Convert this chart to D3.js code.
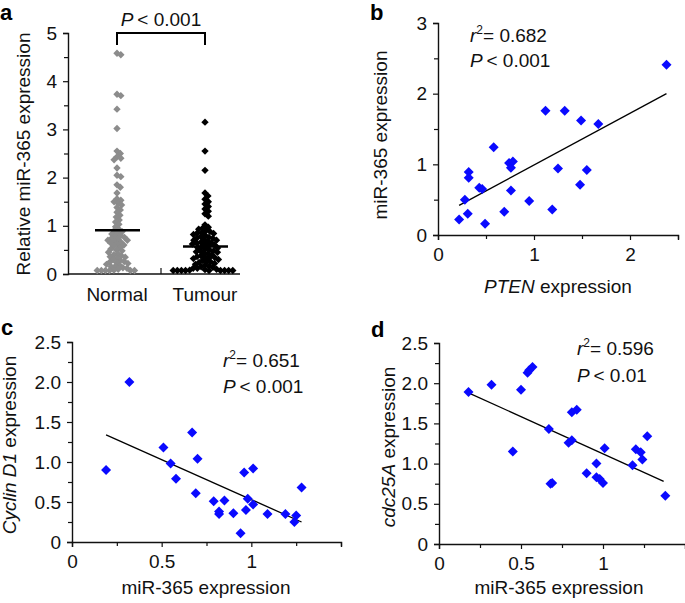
<!DOCTYPE html>
<html><head><meta charset="utf-8">
<script src="https://cdn.jsdelivr.net/npm/d3@7"></script>
<style>
body{margin:0;background:#fff;}
svg{display:block;font-family:"Liberation Sans",Arial,sans-serif;}
</style></head><body>
<svg id="c" width="685" height="603"></svg>
<script>
// ---------- DATA ----------
const groupNames = ["Normal", "Tumour"];
const normalValues = [4.58,4.55,3.73,3.70,3.42,3.02,2.55,2.50,2.43,2.40,2.37,2.20,2.05,2.02,1.85,1.80,1.68,1.56,1.53,1.50,1.47,1.43,1.38,1.33,1.28,1.22,1.18,1.12,1.08,1.03,0.98,
  0.93,0.90,0.88,0.85,0.83,0.80,0.78,0.76,0.74,0.72,0.70,0.70,0.68,0.66,0.64,0.62,0.60,0.58,0.55,0.52,0.50,0.48,0.45,0.42,0.40,0.38,0.36,0.35,0.33,0.30,0.28,0.26,0.25,0.24,0.22,0.20,0.18,0.16,0.15,0.13,0.12,0.10,0.08,0.07,0.06,0.05,0.04,0.03,0.02];
const tumourValues = [3.15,2.55,2.15,1.68,1.62,1.55,1.50,1.45,1.40,1.35,1.30,1.25,1.20,1.02,0.97,0.95,0.93,0.90,0.88,0.86,0.84,0.82,0.80,0.78,0.76,0.74,0.72,0.70,0.68,0.66,0.64,0.62,0.60,0.58,0.56,0.54,0.52,0.50,0.48,0.46,0.44,0.42,0.40,0.38,0.36,0.34,0.32,0.30,0.28,0.26,0.24,0.22,0.20,0.18,0.16,0.14,0.12,0.10,0.09,0.08,0.07,0.06,0.05,0.04,0.03,0.02,0.01,
  0.85,0.75,0.65,0.55,0.45,0.35,0.25,0.15,0.05,0.02,0.62,0.48,0.33,0.12,0.70];
const groupMeans = [0.91, 0.57];
const pValueA = "0.001";

const ptenB = [0.22,0.28,0.31,0.32,0.32,0.43,0.46,0.49,0.58,0.69,0.74,0.76,0.76,0.78,0.95,1.12,1.19,1.25,1.32,1.48,1.49,1.55,1.67,2.38];
const mirB  = [0.22,0.50,0.30,0.89,0.81,0.67,0.65,0.16,1.24,0.33,1.02,0.95,0.63,1.04,0.48,1.76,0.36,0.94,1.76,0.71,1.62,0.92,1.57,2.41];
const fitBx = [0.22, 2.38], fitBy = [0.42, 2.00];

const mirC    = [0.19,0.32,0.51,0.55,0.58,0.67,0.69,0.70,0.79,0.82,0.82,0.85,0.90,0.94,0.96,0.97,0.98,1.01,1.01,1.09,1.19,1.25,1.24,1.28];
const cyclinC = [0.90,2.00,1.18,0.98,0.79,1.37,0.61,1.04,0.51,0.38,0.35,0.52,0.36,0.11,0.87,0.40,0.54,0.92,0.47,0.35,0.35,0.33,0.25,0.68];
const fitCx = [0.19, 1.28], fitCy = [1.34, 0.25];

const mirD    = [0.18,0.32,0.45,0.50,0.54,0.55,0.57,0.67,0.68,0.69,0.79,0.81,0.81,0.84,0.90,0.96,0.96,0.98,1.00,1.01,1.18,1.20,1.23,1.24,1.27,1.38];
const cdcD    = [1.89,1.98,1.15,1.92,2.13,2.16,2.20,1.43,0.75,0.76,1.26,1.64,1.29,1.67,0.88,1.00,0.83,0.81,0.76,1.19,0.98,1.18,1.14,1.05,1.34,0.60];
const fitDx = [0.18, 1.37], fitDy = [1.88, 0.78];

const statsB = ["0.682", "0.001"], statsC = ["0.651", "0.001"], statsD = ["0.596", "0.01"];

// ---------- HELPERS ----------
const svg = d3.select("#c");
const FS = 19;
const blue = "#0a0aff";
function diamond(h){ return `M0,${-h}L${h},0L0,${h}L${-h},0Z`; }

function axisX(g, scale, y, major, minor, fmt){
  const a = g.append("g").attr("transform",`translate(0,${y})`)
    .call(d3.axisBottom(scale).tickValues(major).tickFormat(fmt).tickSizeOuter(0).tickSize(5).tickPadding(8));
  g.append("g").attr("transform",`translate(0,${y})`)
    .call(d3.axisBottom(scale).tickValues(minor).tickFormat("").tickSizeOuter(0).tickSize(4))
    .call(s=>s.select(".domain").remove())
    .selectAll("line").attr("stroke","#111").attr("stroke-width",1.2);
  styleAxis(a);
}
function axisY(g, scale, x, major, minor, fmt){
  const a = g.append("g").attr("transform",`translate(${x},0)`)
    .call(d3.axisLeft(scale).tickValues(major).tickFormat(fmt).tickSizeOuter(0).tickSize(5).tickPadding(6));
  g.append("g").attr("transform",`translate(${x},0)`)
    .call(d3.axisLeft(scale).tickValues(minor).tickFormat("").tickSizeOuter(0).tickSize(4))
    .call(s=>s.select(".domain").remove())
    .selectAll("line").attr("stroke","#111").attr("stroke-width",1.2);
  styleAxis(a);
}
function styleAxis(a){
  a.selectAll("text").attr("font-size",FS).attr("fill","#111").attr("font-family","Liberation Sans, Arial, sans-serif");
  a.selectAll("line").attr("stroke","#111").attr("stroke-width",1.2);
  a.select(".domain").attr("stroke","#111").attr("stroke-width",1.4);
}
function panelLetter(t,x,y){
  svg.append("text").attr("x",x).attr("y",y).attr("font-size",22).attr("font-weight","bold").attr("fill","#000").text(t);
}
function yTitle(parts,cx,cy){
  const t = svg.append("text").attr("transform",`translate(${cx},${cy}) rotate(-90)`)
    .attr("text-anchor","middle").attr("dy","0.35em").attr("font-size",FS).attr("fill","#111");
  parts.forEach(p=>t.append("tspan").attr("font-style",p[1]?"italic":"normal").text(p[0]));
}
function xTitle(parts,cx,y){
  const t = svg.append("text").attr("x",cx).attr("y",y).attr("text-anchor","middle").attr("font-size",FS).attr("fill","#111");
  parts.forEach(p=>t.append("tspan").attr("font-style",p[1]?"italic":"normal").text(p[0]));
}
function stats(x,y1,y2,s){
  const t1 = svg.append("text").attr("x",x).attr("y",y1).attr("font-size",FS).attr("fill","#111");
  t1.append("tspan").attr("font-style","italic").text("r");
  t1.append("tspan").attr("font-size",12).attr("dy",-8).text("2");
  t1.append("tspan").attr("dy",8).text("= " + s[0]);
  const t2 = svg.append("text").attr("x",x).attr("y",y2).attr("font-size",FS).attr("fill","#111");
  t2.append("tspan").attr("font-style","italic").text("P");
  t2.append("tspan").text("\u2009< " + s[1]);
}
function scatter(xs, ys, sx, sy, fx, fy){
  const g = svg.append("g");
  g.append("line").attr("x1",sx(fx[0])).attr("y1",sy(fy[0])).attr("x2",sx(fx[1])).attr("y2",sy(fy[1]))
    .attr("stroke","#000").attr("stroke-width",1.3);
  g.selectAll("path.pt").data(xs.map((v,i)=>[v,ys[i]])).join("path").attr("class","pt")
    .attr("d",diamond(5)).attr("fill",blue)
    .attr("transform",d=>`translate(${sx(d[0])},${sy(d[1])})`);
}

// ---------- PANEL A ----------
{
  const g = svg.append("g");
  const y = d3.scaleLinear().domain([0,5]).range([274,33]);
  const xc = d3.scalePoint().domain(groupNames).range([117,205]);
  axisY(g, y, 68, [0,1,2,3,4,5], [0.5,1.5,2.5,3.5,4.5], d3.format("d"));
  g.append("line").attr("x1",68).attr("x2",240).attr("y1",274).attr("y2",274).attr("stroke","#111").attr("stroke-width",1.4);
  g.append("line").attr("x1",(xc("Normal")+xc("Tumour"))/2).attr("x2",(xc("Normal")+xc("Tumour"))/2)
    .attr("y1",274).attr("y2",268).attr("stroke","#111").attr("stroke-width",1.2);
  groupNames.forEach(n=>{
    g.append("text").attr("x",xc(n)).attr("y",301).attr("text-anchor","middle").attr("font-size",FS).attr("fill","#111").text(n);
  });
  function swarm(vals, cx, d){
    const pts = vals.map(v=>({v, y: Math.min(y(v),270.5)})).sort((a,b)=>a.y-b.y);
    const placed = [];
    pts.forEach(p=>{
      const cands=[0];
      const near = placed.filter(q=>Math.abs(q.y-p.y)<d);
      near.forEach(q=>{const dx=Math.sqrt(d*d-(q.y-p.y)**2); cands.push(q.x+dx, q.x-dx);});
      cands.sort((a,b)=>Math.abs(a)-Math.abs(b));
      for(const c of cands){
        if(near.every(q=>(q.x-c)**2+(q.y-p.y)**2 >= d*d-0.01)){ p.x=c; break; }
      }
      placed.push(p);
    });
    return placed.map(p=>({x: cx + p.x, y: p.y}));
  }
  const colors = ["#8c8c8c","#000"];
  [normalValues, tumourValues].forEach((vals,i)=>{
    const pts = swarm(vals, xc(groupNames[i]), 4.1);
    g.selectAll(null).data(pts).join("path").attr("d",diamond(3.7)).attr("fill",colors[i])
      .attr("transform",d=>`translate(${d.x},${d.y})`);
  });
  groupMeans.forEach((m,i)=>{
    g.append("line").attr("x1",xc(groupNames[i])-22).attr("x2",xc(groupNames[i])+23)
      .attr("y1",y(m)).attr("y2",y(m)).attr("stroke","#000").attr("stroke-width",2.5);
  });
  g.append("path").attr("d",`M${xc("Normal")},45V33H${xc("Tumour")}V45`).attr("fill","none").attr("stroke","#000").attr("stroke-width",2);
  const t = g.append("text").attr("x",161).attr("y",26).attr("text-anchor","middle").attr("font-size",FS).attr("fill","#111");
  t.append("tspan").attr("font-style","italic").text("P");
  t.append("tspan").text("\u2009< " + pValueA);
  yTitle([["Relative miR-365 expression",false]], 23, 154);
  panelLetter("a", 0, 20);
}

// ---------- PANEL B ----------
{
  const g = svg.append("g");
  const x = d3.scaleLinear().domain([0,2.5]).range([438,678]);
  const y = d3.scaleLinear().domain([0,3]).range([235,23]);
  axisX(g, x, 235, [0,1,2], [0.5,1.5,2.5], d3.format("d"));
  axisY(g, y, 438, [0,1,2,3], [0.5,1.5,2.5], d3.format("d"));
  scatter(ptenB, mirB, x, y, fitBx, fitBy);
  stats(470, 42, 67, statsB);
  xTitle([["PTEN",true],[" expression",false]], 558, 293);
  yTitle([["miR-365 expression",false]], 380, 135);
  panelLetter("b", 370, 20);
}

// ---------- PANEL C ----------
{
  const g = svg.append("g");
  const x = d3.scaleLinear().domain([0,1.5]).range([72,341]);
  const y = d3.scaleLinear().domain([0,2.5]).range([542,342]);
  const fmtY = v => v===0 ? "0" : d3.format(".1f")(v);
  const fmtX = v => v===0 ? "0" : (v===1 ? "1" : String(v));
  axisX(g, x, 542, [0,0.5,1], [0.25,0.75,1.25,1.5], fmtX);
  axisY(g, y, 72, [0,0.5,1,1.5,2,2.5], [0.25,0.75,1.25,1.75,2.25], fmtY);
  scatter(mirC, cyclinC, x, y, fitCx, fitCy);
  stats(223, 367, 393, statsC);
  xTitle([["miR-365 expression",false]], 206, 594);
  yTitle([["Cyclin D1",true],[" expression",false]], 9.5, 445);
  panelLetter("c", 1, 335);
}

// ---------- PANEL D ----------
{
  const g = svg.append("g");
  const x = d3.scaleLinear().domain([0,1.5]).range([439,685]);
  const y = d3.scaleLinear().domain([0,2.5]).range([544,343]);
  const fmtY = v => v===0 ? "0" : d3.format(".1f")(v);
  const fmtX = v => v===0 ? "0" : (v===1 ? "1" : String(v));
  axisX(g, x, 544, [0,0.5,1], [0.25,0.75,1.25], fmtX);
  axisY(g, y, 439, [0,0.5,1,1.5,2,2.5], [0.25,0.75,1.25,1.75,2.25], fmtY);
  scatter(mirD, cdcD, x, y, fitDx, fitDy);
  stats(577, 355, 382, statsD);
  xTitle([["miR-365 expression",false]], 559, 594);
  yTitle([["cdc25A",true],[" expression",false]], 388, 447);
  panelLetter("d", 371, 337);
}
</script>
</body></html>
